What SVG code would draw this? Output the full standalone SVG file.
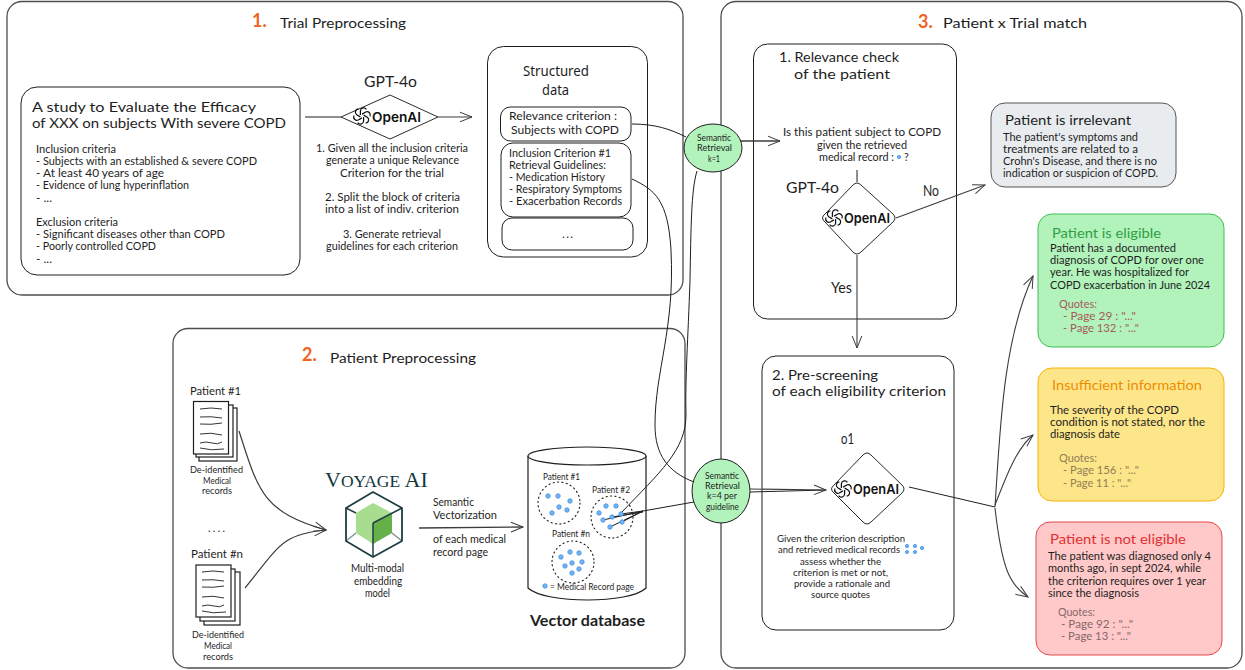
<svg xmlns="http://www.w3.org/2000/svg" xmlns:xlink="http://www.w3.org/1999/xlink" width="1245" height="670" viewBox="0 0 1245 670">
<style>
text{font-family:"Lato","Noto Sans",sans-serif;fill:#1e1e1e}
.frame{fill:#fff;stroke:#4d4d4d;stroke-width:1.3}
.box{fill:#fff;stroke:#1e1e1e;stroke-width:1}
.s{font-size:10.5px}
.m{font-size:11.5px}
.xs{font-size:9.5px}
.h{font-size:14px}
.big{font-size:15px}
.num{font-size:18px;font-weight:700;fill:#f0641e}
.st{font-family:"Noto Sans",sans-serif;font-size:15px}
.oai{font-family:"Inter",sans-serif;font-weight:600;font-size:13.5px;fill:#111}
.c{stroke:#1e1e1e;stroke-width:1;fill:none}
.ca{stroke:#3c3c3c;stroke-width:1.1;fill:none;marker-end:url(#arr)}
.dia{fill:#fff;stroke:#2b2b2b;stroke-width:1;stroke-linejoin:round}
.dot{fill:#74b5f0;stroke:#4a94e8;stroke-width:.9}
.ring{fill:none;stroke:#1e1e1e;stroke-width:1.1;stroke-dasharray:1.2 3.2;stroke-linecap:round}
.page{fill:#fff;stroke:#1e1e1e;stroke-width:1.2}
.ln{stroke:#1e1e1e;stroke-width:.9;fill:none}
.sr{fill:#b2f2bb;stroke:#1e1e1e;stroke-width:1}
.q1{fill:#a55b5b}.q2{fill:#927d55}.q3{fill:#86686a}
</style>
<defs>
<marker id="arr" markerUnits="userSpaceOnUse" markerWidth="16" markerHeight="14" refX="13" refY="7" orient="auto"><path d="M1 2.2 L13 7 L1 11.8" fill="none" stroke="#3c3c3c" stroke-width="1"/></marker>
<g id="logo" fill="none" stroke="#111" stroke-width="1.25">
<path id="pt" d="M-1.6 -1 L-1.6 -5.2 A3.3 3.3 0 0 1 4.4 -6.700"/>
<use xlink:href="#pt" href="#pt" transform="rotate(60)"/>
<use xlink:href="#pt" href="#pt" transform="rotate(120)"/>
<use xlink:href="#pt" href="#pt" transform="rotate(180)"/>
<use xlink:href="#pt" href="#pt" transform="rotate(240)"/>
<use xlink:href="#pt" href="#pt" transform="rotate(300)"/>
</g>
<g id="doclines" class="ln"><path d="M0 7 Q11 5 22 7"/><path d="M0 15 Q11 14 22 16"/><path d="M0 22 Q11 23 22 21"/><path d="M0 32 Q11 30 22 33"/><path d="M0 41 Q6 39 12 41 T22 40"/><path d="M0 46 Q11 49 24 47"/></g>
</defs>

<g id="frames">
<rect class="frame" x="7" y="1.5" width="676" height="293.5" rx="15"/>
<rect class="frame" x="173" y="328.5" width="512" height="339.5" rx="15"/>
<rect class="frame" x="721" y="1.5" width="521" height="666.5" rx="15"/>
</g>

<g id="titles">
<text class="num" x="252" y="27">1.</text><text class="h" x="280" y="28" textLength="126" lengthAdjust="spacingAndGlyphs">Trial Preprocessing</text>
<text class="num" x="302" y="361">2.</text><text class="h" x="330" y="363" textLength="146" lengthAdjust="spacingAndGlyphs">Patient Preprocessing</text>
<text class="num" x="918" y="28">3.</text><text class="h" x="943" y="28" textLength="144" lengthAdjust="spacingAndGlyphs">Patient x Trial match</text>
</g>

<g id="study">
<rect class="box" x="21" y="87" width="279" height="188" rx="16"/>
<text class="h" x="32" y="112" textLength="224" lengthAdjust="spacingAndGlyphs">A study to Evaluate the Efficacy</text>
<text class="h" x="32" y="128" textLength="254" lengthAdjust="spacingAndGlyphs">of XXX on subjects With severe COPD</text>
<g class="s">
<text x="36" y="153" textLength="80" lengthAdjust="spacingAndGlyphs">Inclusion criteria</text>
<text x="36" y="165" textLength="221" lengthAdjust="spacingAndGlyphs">- Subjects with an established &amp; severe COPD</text>
<text x="36" y="177" textLength="128" lengthAdjust="spacingAndGlyphs">- At least 40 years of age</text>
<text x="36" y="189" textLength="153" lengthAdjust="spacingAndGlyphs">- Evidence of lung hyperinflation</text>
<text x="36" y="202" textLength="16" lengthAdjust="spacingAndGlyphs">- ...</text>
<text x="36" y="226" textLength="82" lengthAdjust="spacingAndGlyphs">Exclusion criteria</text>
<text x="36" y="238" textLength="189" lengthAdjust="spacingAndGlyphs">- Significant diseases other than COPD</text>
<text x="36" y="250" textLength="120" lengthAdjust="spacingAndGlyphs">- Poorly controlled COPD</text>
<text x="36" y="263" textLength="16" lengthAdjust="spacingAndGlyphs">- ...</text>
</g>
</g>

<g id="gpt4o-top">
<text class="big" x="364" y="87" textLength="53" lengthAdjust="spacingAndGlyphs">GPT-4o</text>
<path class="dia" d="M341 117 L390 95 L438 117 L390 139 Z"/>
<use href="#logo" xlink:href="#logo" transform="translate(362 116)"/>
<text class="oai" x="372" y="122" textLength="49" lengthAdjust="spacingAndGlyphs">OpenAI</text>
<g class="s">
<text x="316" y="152" textLength="152" lengthAdjust="spacingAndGlyphs">1. Given all the inclusion criteria</text>
<text x="326" y="164" textLength="133" lengthAdjust="spacingAndGlyphs">generate a unique Relevance</text>
<text x="340" y="177" textLength="104" lengthAdjust="spacingAndGlyphs">Criterion for the trial</text>
<text x="325" y="201" textLength="135" lengthAdjust="spacingAndGlyphs">2. Split the block of criteria</text>
<text x="325" y="213" textLength="134" lengthAdjust="spacingAndGlyphs">into a list of indiv. criterion</text>
<text x="343" y="238" textLength="98" lengthAdjust="spacingAndGlyphs">3. Generate retrieval</text>
<text x="326" y="250" textLength="132" lengthAdjust="spacingAndGlyphs">guidelines for each criterion</text>
</g>
</g>

<g id="structured">
<rect class="box" x="487.5" y="46.5" width="160" height="210.500" rx="16"/>
<text class="st" x="523" y="76" textLength="66" lengthAdjust="spacingAndGlyphs">Structured</text>
<text class="st" x="542" y="95" textLength="27" lengthAdjust="spacingAndGlyphs">data</text>
<rect class="box" x="500.500" y="107" width="130.500" height="34" rx="10"/>
<text class="m" x="509" y="120" textLength="108" lengthAdjust="spacingAndGlyphs">Relevance criterion :</text>
<text class="m" x="511" y="134" textLength="108" lengthAdjust="spacingAndGlyphs">Subjects with COPD</text>
<rect class="box" x="501" y="143" width="130" height="74" rx="12"/>
<g class="s">
<text x="509" y="157" textLength="102" lengthAdjust="spacingAndGlyphs">Inclusion Criterion #1</text>
<text x="509" y="169" textLength="97" lengthAdjust="spacingAndGlyphs">Retrieval Guidelines:</text>
<text x="509" y="181" textLength="96" lengthAdjust="spacingAndGlyphs">- Medication History</text>
<text x="509" y="193" textLength="113" lengthAdjust="spacingAndGlyphs">- Respiratory Symptoms</text>
<text x="509" y="205" textLength="113" lengthAdjust="spacingAndGlyphs">- Exacerbation Records</text>
</g>
<rect class="box" x="502" y="218" width="131" height="32" rx="10"/>
<text class="m" x="562" y="238" textLength="11" lengthAdjust="spacing">...</text>
</g>

<g id="patient1">
<text class="s" x="190" y="395" textLength="51" lengthAdjust="spacingAndGlyphs">Patient #1</text>
<rect class="page" x="199" y="408" width="38" height="53"/>
<rect class="page" x="196" y="405" width="37" height="52"/>
<rect class="page" x="193.500" y="401.500" width="35" height="52.500"/>
<use href="#doclines" xlink:href="#doclines" transform="translate(200 402)"/>
<g class="xs"><text x="190" y="473" textLength="53" lengthAdjust="spacingAndGlyphs">De-identified</text>
<text x="203" y="484" textLength="28" lengthAdjust="spacingAndGlyphs">Medical</text>
<text x="202" y="494" textLength="30" lengthAdjust="spacingAndGlyphs">records</text></g>
</g>
<text id="ellipsis" class="s" x="208" y="532" textLength="17" lengthAdjust="spacing">....</text>
<g id="patientn">
<text class="s" x="191" y="558" textLength="52" lengthAdjust="spacingAndGlyphs">Patient #n</text>
<rect class="page" x="204" y="572" width="36" height="53"/>
<rect class="page" x="200" y="569" width="35" height="52"/>
<rect class="page" x="196" y="565" width="35" height="52"/>
<use href="#doclines" xlink:href="#doclines" transform="translate(202 565)"/>
<g class="xs"><text x="192" y="638" textLength="52" lengthAdjust="spacingAndGlyphs">De-identified</text>
<text x="204" y="649" textLength="28" lengthAdjust="spacingAndGlyphs">Medical</text>
<text x="203" y="660" textLength="30" lengthAdjust="spacingAndGlyphs">records</text></g>
</g>

<g id="voyage">
<text x="325" y="487" style="font-family:'Liberation Serif',serif;fill:#12393d;font-size:22px">V<tspan font-size="17.500">OYAGE</tspan> AI</text>
<path d="M373 503 L392 513 L373 523 L373 544 L356 533 L356 513 Z" fill="#a8dd8f"/>
<path d="M392 513 L392 533 L373 544 L373 523 Z" fill="#66b04a"/>
<path d="M346 541 L356 533 M402 541 L392 533" stroke="#7d8f88" stroke-width="1.3" fill="none"/>
<path d="M346 508 L356 513 M373 523 L402 508 M373 523 L373 557" stroke="#1d3f44" stroke-width="1.5" fill="none"/>
<path d="M373 492 L402 508 L402 541 L373 557 L346 541 L346 508 Z" fill="none" stroke="#1d3f44" stroke-width="1.8" stroke-linejoin="round"/>
<g class="s">
<text x="351" y="572" textLength="53" lengthAdjust="spacingAndGlyphs">Multi-modal</text>
<text x="354" y="585" textLength="48" lengthAdjust="spacingAndGlyphs">embedding</text>
<text x="365" y="597" textLength="25" lengthAdjust="spacingAndGlyphs">model</text>
<text x="433" y="506" textLength="41" lengthAdjust="spacingAndGlyphs">Semantic</text>
<text x="433" y="519" textLength="64" lengthAdjust="spacingAndGlyphs">Vectorization</text>
<text x="433" y="543" textLength="73" lengthAdjust="spacingAndGlyphs">of each medical</text>
<text x="433" y="556" textLength="55" lengthAdjust="spacingAndGlyphs">record page</text>
</g>
</g>

<g id="vectordb">
<path d="M528 456 L528 588 C545 604 630 604 646 588 L646 456" fill="none" stroke="#1e1e1e" stroke-width="1.2"/>
<ellipse cx="587" cy="456" rx="59" ry="9" fill="#fff" stroke="#1e1e1e" stroke-width="1.2"/>
<circle class="ring" cx="559" cy="503" r="21"/><circle class="ring" cx="612" cy="517" r="21"/><circle class="ring" cx="573" cy="562" r="21"/>
<g class="xs">
<text x="543" y="480" textLength="37" lengthAdjust="spacingAndGlyphs">Patient #1</text>
<text x="592" y="493" textLength="38" lengthAdjust="spacingAndGlyphs">Patient #2</text>
<text x="552" y="537" textLength="38" lengthAdjust="spacingAndGlyphs">Patient #n</text>
<text x="550" y="590" textLength="84" lengthAdjust="spacingAndGlyphs">= Medical Record page</text>
</g>
<g class="dot">
<circle cx="548" cy="496" r="2.2"/><circle cx="558" cy="496" r="2.2"/><circle cx="570" cy="501" r="2.2"/><circle cx="552" cy="513" r="2.2"/><circle cx="559" cy="507" r="2.2"/><circle cx="567" cy="510" r="2.2"/>
<circle cx="599" cy="513" r="2.2"/><circle cx="606" cy="506" r="2.2"/><circle cx="616" cy="506" r="2.2"/>
<circle cx="561" cy="557" r="2.2"/><circle cx="570" cy="552" r="2.2"/><circle cx="579" cy="553" r="2.2"/><circle cx="565" cy="566" r="2.2"/><circle cx="572" cy="563" r="2.2"/><circle cx="582" cy="562" r="2.2"/><circle cx="579" cy="569" r="2.2"/><circle cx="572" cy="573" r="2.2"/>
<circle cx="545" cy="586" r="2.2"/>
</g>
<text class="big" x="530" y="626" textLength="115" lengthAdjust="spacingAndGlyphs" style="font-weight:700">Vector database</text>
</g>

<g id="relevance">
<rect class="box" x="753.500" y="44" width="203" height="275" rx="14"/>
<text class="h" x="779" y="62" textLength="120" lengthAdjust="spacingAndGlyphs">1. Relevance check</text>
<text class="h" x="794" y="79" textLength="96" lengthAdjust="spacingAndGlyphs">of the patient</text>
<g class="s">
<text x="783" y="136" textLength="158" lengthAdjust="spacingAndGlyphs">Is this patient subject to COPD</text>
<text x="817" y="149" textLength="90" lengthAdjust="spacingAndGlyphs">given the retrieved</text>
<text x="819" y="161" textLength="75" lengthAdjust="spacingAndGlyphs">medical record :</text>
<text x="904" y="161">?</text>
</g>
<circle class="dot" cx="899" cy="157" r="1.6"/>
<text class="big" x="786" y="193" textLength="53" lengthAdjust="spacingAndGlyphs">GPT-4o</text>
<path class="dia" d="M853 185 Q857 181 861 185 L893 214 Q897 218 893 222 L861 252 Q857 256 853 252 L825 222 Q820 218 825 214 Z"/>
<use href="#logo" xlink:href="#logo" transform="translate(834 218)"/>
<text class="oai" x="844" y="223" textLength="46" lengthAdjust="spacingAndGlyphs">OpenAI</text>
<text class="big" x="923" y="196" textLength="16" lengthAdjust="spacingAndGlyphs">No</text>
<text class="big" x="831" y="293" textLength="21" lengthAdjust="spacingAndGlyphs">Yes</text>
</g>

<g id="prescreen">
<rect class="box" x="762" y="356" width="192" height="274" rx="14"/>
<text class="h" x="772" y="380" textLength="106" lengthAdjust="spacingAndGlyphs">2. Pre-screening</text>
<text class="h" x="772" y="396" textLength="174" lengthAdjust="spacingAndGlyphs">of each eligibility criterion</text>
<text class="big" x="841" y="444" textLength="13" lengthAdjust="spacingAndGlyphs">o1</text>
<path class="dia" d="M863 455 Q867 451 871 455 L902 485 Q906 489 902 493 L871 522 Q867 526 863 522 L834 493 Q829 489 834 485 Z"/>
<use href="#logo" xlink:href="#logo" transform="translate(843 489)"/>
<text class="oai" x="853" y="494" textLength="46" lengthAdjust="spacingAndGlyphs">OpenAI</text>
<g class="xs">
<text x="777" y="542" textLength="128" lengthAdjust="spacingAndGlyphs">Given the criterion description</text>
<text x="778" y="553" textLength="122" lengthAdjust="spacingAndGlyphs">and retrieved medical records</text>
<text x="800" y="565" textLength="81" lengthAdjust="spacingAndGlyphs">assess whether the</text>
<text x="793" y="576" textLength="95" lengthAdjust="spacingAndGlyphs">criterion is met or not,</text>
<text x="794" y="587" textLength="96" lengthAdjust="spacingAndGlyphs">provide a rationale and</text>
<text x="811" y="598" textLength="59" lengthAdjust="spacingAndGlyphs">source quotes</text>
</g>
<g class="dot"><circle cx="907" cy="546" r="1.6"/><circle cx="915" cy="546" r="1.6"/><circle cx="922" cy="548" r="1.6"/><circle cx="907" cy="552" r="1.6"/><circle cx="915" cy="552" r="1.6"/></g>
</g>

<g id="irrelevant">
<rect x="991" y="103" width="185" height="84" rx="14" fill="#e9ecef" stroke="#555" stroke-width="1"/>
<text class="h" x="1005" y="125" textLength="126" lengthAdjust="spacingAndGlyphs">Patient is irrelevant</text>
<g class="s">
<text x="1003" y="141" textLength="135" lengthAdjust="spacingAndGlyphs">The patient's symptoms and</text>
<text x="1003" y="153" textLength="135" lengthAdjust="spacingAndGlyphs">treatments are related to a</text>
<text x="1003" y="165" textLength="154" lengthAdjust="spacingAndGlyphs">Crohn's Disease, and there is no</text>
<text x="1003" y="177" textLength="155" lengthAdjust="spacingAndGlyphs">indication or suspicion of COPD.</text>
</g>
</g>

<g id="eligible">
<rect x="1038" y="214" width="186" height="133" rx="14" fill="#b2f2bb" stroke="#40c057" stroke-width="1"/>
<text class="h" x="1052" y="238" textLength="109" lengthAdjust="spacingAndGlyphs" style="fill:#2f9e44">Patient is eligible</text>
<g class="s">
<text x="1050" y="252" textLength="126" lengthAdjust="spacingAndGlyphs">Patient has a documented</text>
<text x="1050" y="264" textLength="154" lengthAdjust="spacingAndGlyphs">diagnosis of COPD for over one</text>
<text x="1050" y="276" textLength="139" lengthAdjust="spacingAndGlyphs">year. He was hospitalized for</text>
<text x="1050" y="289" textLength="160" lengthAdjust="spacingAndGlyphs">COPD exacerbation in June 2024</text>
<text class="s q1" x="1059" y="308" textLength="38" lengthAdjust="spacingAndGlyphs">Quotes:</text>
<text class="s q1" x="1063" y="320" textLength="73" lengthAdjust="spacingAndGlyphs">- Page 29 : "..."</text>
<text class="s q1" x="1063" y="332" textLength="76" lengthAdjust="spacingAndGlyphs">- Page 132 : "..."</text>
</g>
</g>

<g id="insufficient">
<rect x="1038" y="368" width="186" height="133" rx="14" fill="#fde68a" stroke="#fab005" stroke-width="1"/>
<text class="h" x="1052" y="390" textLength="150" lengthAdjust="spacingAndGlyphs" style="fill:#f08c00">Insufficient information</text>
<g class="s">
<text x="1050" y="414" textLength="129" lengthAdjust="spacingAndGlyphs">The severity of the COPD</text>
<text x="1050" y="426" textLength="155" lengthAdjust="spacingAndGlyphs">condition is not stated, nor the</text>
<text x="1050" y="438" textLength="70" lengthAdjust="spacingAndGlyphs">diagnosis date</text>
<text class="s q2" x="1059" y="462" textLength="38" lengthAdjust="spacingAndGlyphs">Quotes:</text>
<text class="s q2" x="1063" y="474" textLength="76" lengthAdjust="spacingAndGlyphs">- Page 156 : "..."</text>
<text class="s q2" x="1063" y="487" textLength="68" lengthAdjust="spacingAndGlyphs">- Page 11 : "..."</text>
</g>
</g>

<g id="noteligible">
<rect x="1036" y="522" width="186" height="133" rx="14" fill="#ffc9c9" stroke="#e5484d" stroke-width="1"/>
<text class="h" x="1050" y="544" textLength="136" lengthAdjust="spacingAndGlyphs" style="fill:#e03131">Patient is not eligible</text>
<g class="s">
<text x="1048" y="560" textLength="163" lengthAdjust="spacingAndGlyphs">The patient was diagnosed only 4</text>
<text x="1048" y="572" textLength="153" lengthAdjust="spacingAndGlyphs">months ago, in sept 2024, while</text>
<text x="1048" y="585" textLength="158" lengthAdjust="spacingAndGlyphs">the criterion requires over 1 year</text>
<text x="1048" y="597" textLength="91" lengthAdjust="spacingAndGlyphs">since the diagnosis</text>
<text class="s q3" x="1058" y="616" textLength="37" lengthAdjust="spacingAndGlyphs">Quotes:</text>
<text class="s q3" x="1061" y="628" textLength="72" lengthAdjust="spacingAndGlyphs">- Page 92 : "..."</text>
<text class="s q3" x="1061" y="640" textLength="70" lengthAdjust="spacingAndGlyphs">- Page 13 : "..."</text>
</g>
</g>

<g id="connectors">
<path class="c" d="M305 117 L341 117"/>
<path class="ca" d="M438 117 L472 117"/>
<path class="c" d="M632 124 C655 124 670 129 686 137"/>
<path class="ca" d="M741 141 L780 141" style="stroke-width:1.5"/>
<path class="c" d="M632 179 C655 190 668 200 671 250 C675 330 655 370 655 425 C655 455 668 472 694 482"/>
<path class="c" d="M697 171 C691 190 691 230 690 280 C688 340 685 380 686 415 C686 450 660 472 621 513"/>
<path class="ca" d="M239 431 C258 490 262 512 326 530" style="stroke-width:1.2"/>
<path class="ca" d="M245 588 C280 545 282 534 326 530" style="stroke-width:1.2"/>
<path class="ca" d="M419 528 L523 527" style="stroke-width:1.3"/>
<path class="c" d="M603 520 L643 511 L694 502"/>
<path class="c" d="M610 527 L643 511"/>
<path class="c" d="M612 517 L643 512"/>
<path class="c" d="M622 522 L643 511"/>
<path class="c" d="M621 514 L643 511"/>
<path class="c" d="M750 492 L826 490"/>
<path class="ca" d="M750 489 L826 490"/>
<path class="c" d="M857 170 L857 182"/>
<path class="ca" d="M857 255 L857 348"/>
<path class="ca" d="M896 218 L985 185"/>
<path class="c" d="M909 487 L995 507"/>
<path class="ca" d="M995 507 C1000 430 1003 340 1033 276"/>
<path class="ca" d="M995 505 C1005 480 1015 450 1033 435"/>
<path class="ca" d="M995 508 C1002 570 1010 585 1028 597"/>
</g>

<g id="sr1">
<ellipse class="sr" cx="713" cy="148" rx="29" ry="24"/>
<text class="xs" x="697" y="141" textLength="34" lengthAdjust="spacingAndGlyphs">Semantic</text>
<text class="xs" x="697" y="151" textLength="35" lengthAdjust="spacingAndGlyphs">Retrieval</text>
<text class="xs" x="708" y="162" textLength="12" lengthAdjust="spacingAndGlyphs">k=1</text>
</g>

<g id="sr2">
<ellipse class="sr" cx="721" cy="491" rx="29" ry="32"/>
<text class="xs" x="705" y="479" textLength="34" lengthAdjust="spacingAndGlyphs">Semantic</text>
<text class="xs" x="705" y="489" textLength="35" lengthAdjust="spacingAndGlyphs">Retrieval</text>
<text class="xs" x="707" y="499" textLength="30" lengthAdjust="spacingAndGlyphs">k=4 per</text>
<text class="xs" x="706" y="510" textLength="33" lengthAdjust="spacingAndGlyphs">guideline</text>
</g>

<g id="patient2-dots" class="dot">
<circle cx="621" cy="514" r="2.2"/><circle cx="612" cy="517" r="2.2"/><circle cx="603" cy="520" r="2.2"/><circle cx="622" cy="522" r="2.2"/><circle cx="610" cy="527" r="2.2"/>
</g>
</svg>
